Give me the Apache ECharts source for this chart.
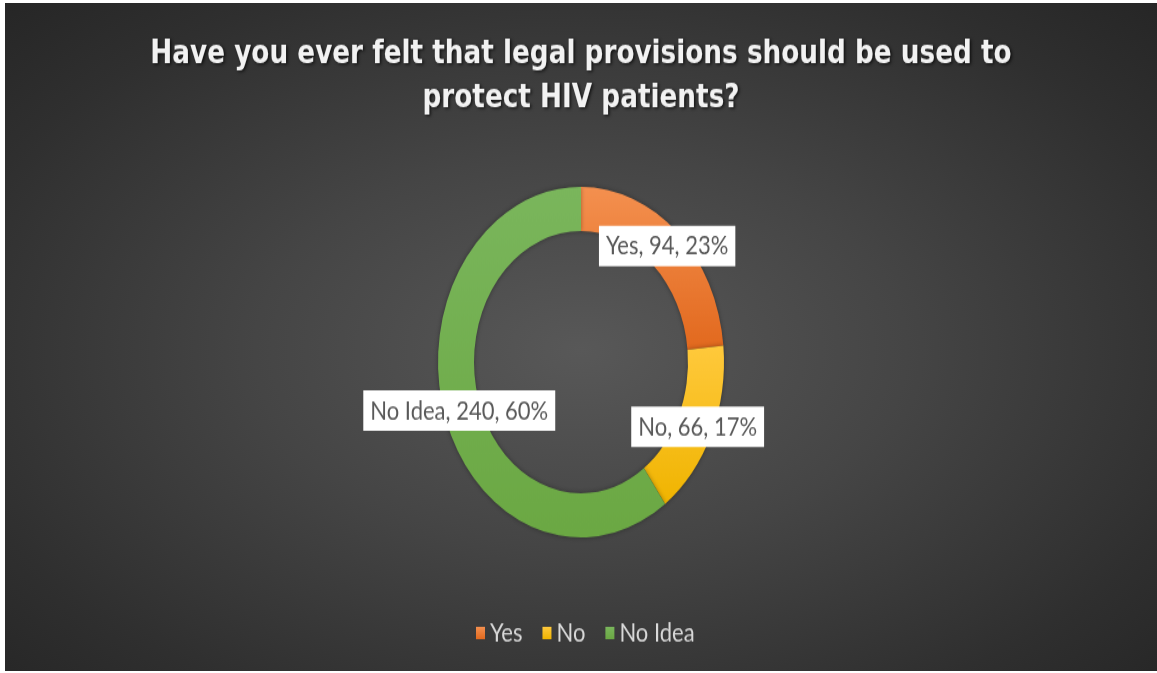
<!DOCTYPE html>
<html>
<head>
<meta charset="utf-8">
<script src="https://cdn.jsdelivr.net/npm/echarts@6/dist/echarts.min.js"></script>
<style>
  html, body { margin: 0; padding: 0; background: #ffffff; width: 1157px; height: 673px; overflow: hidden; }
  #frame {
    position: absolute; left: 5px; top: 3px; width: 1152px; height: 668px; overflow: hidden;
    background: radial-gradient(ellipse farthest-corner at 50% 52%, #585858 0%, #454545 40%, #2f2f2f 80%, #262626 100%);
  }
  /* the chart is drawn in a shorter box and stretched vertically */
  #chart {
    position: absolute; left: 0; top: 0; width: 1152px; height: 545px;
    transform: scaleY(1.2257); transform-origin: 0 0;
  }
</style>
</head>
<body>
<div id="frame"><div id="chart"></div></div>
<script>
// Survey answers
const titleLines = ['Have you ever felt that legal provisions should be used to', 'protect HIV patients?'];
const categories = ['Yes', 'No', 'No Idea'];
const counts = [94, 66, 240];
const shares = [23, 17, 60];   // percentages as printed on the labels
const palette = [
  ['#F4904F', '#E2691E'],
  ['#FFC93C', '#F0B400'],
  ['#7AB65C', '#6BA843']
];

const chart = echarts.init(document.getElementById('chart'), null, { renderer: 'canvas' });

const pieData = categories.map((name, i) => ({
  name: name,
  value: counts[i],
  share: shares[i],
  itemStyle: {
    color: {
      type: 'linear', x: 0, y: 0, x2: 0, y2: 1,
      colorStops: [{ offset: 0, color: palette[i][0] }, { offset: 1, color: palette[i][1] }]
    }
  }
}));

chart.setOption({
  backgroundColor: 'transparent',
  animation: false,
  title: {
    text: titleLines.join('\n'),
    left: 'center',
    top: 24,
    padding: 0,
    textStyle: {
      fontFamily: 'DejaVu Sans',
      fontWeight: 'bold',
      fontSize: 26.3,
      lineHeight: 36,
      color: '#F2F2F2',
      textShadowColor: 'rgba(0,0,0,0.7)',
      textShadowBlur: 3,
      textShadowOffsetX: 1.5,
      textShadowOffsetY: 1.5
    }
  },
  legend: {
    data: categories,
    left: 466,
    top: 498,
    icon: 'rect',
    itemWidth: 9,
    itemHeight: 10,
    itemGap: 20,
    textStyle: { fontFamily: 'Lato', fontSize: 22, color: '#D9D9D9', padding: [0, 0, 0, 0] }
  },
  series: [{
    type: 'pie',
    center: [576, 293],
    radius: [107, 143],
    startAngle: 90,
    clockwise: true,
    avoidLabelOverlap: false,
    itemStyle: { shadowBlur: 4, shadowColor: 'rgba(0,0,0,0.35)' },
    label: {
      show: true,
      position: 'inside',
      formatter: p => `${p.name}, ${p.value}, ${p.data.share}%`,
      fontFamily: 'Lato',
      fontSize: 22,
      color: '#595959',
      backgroundColor: '#FFFFFF',
      padding: [6, 7, 5, 7]
    },
    labelLine: { show: false },
    emphasis: { disabled: true },
    data: pieData
  }]
});
</script>
</body>
</html>
